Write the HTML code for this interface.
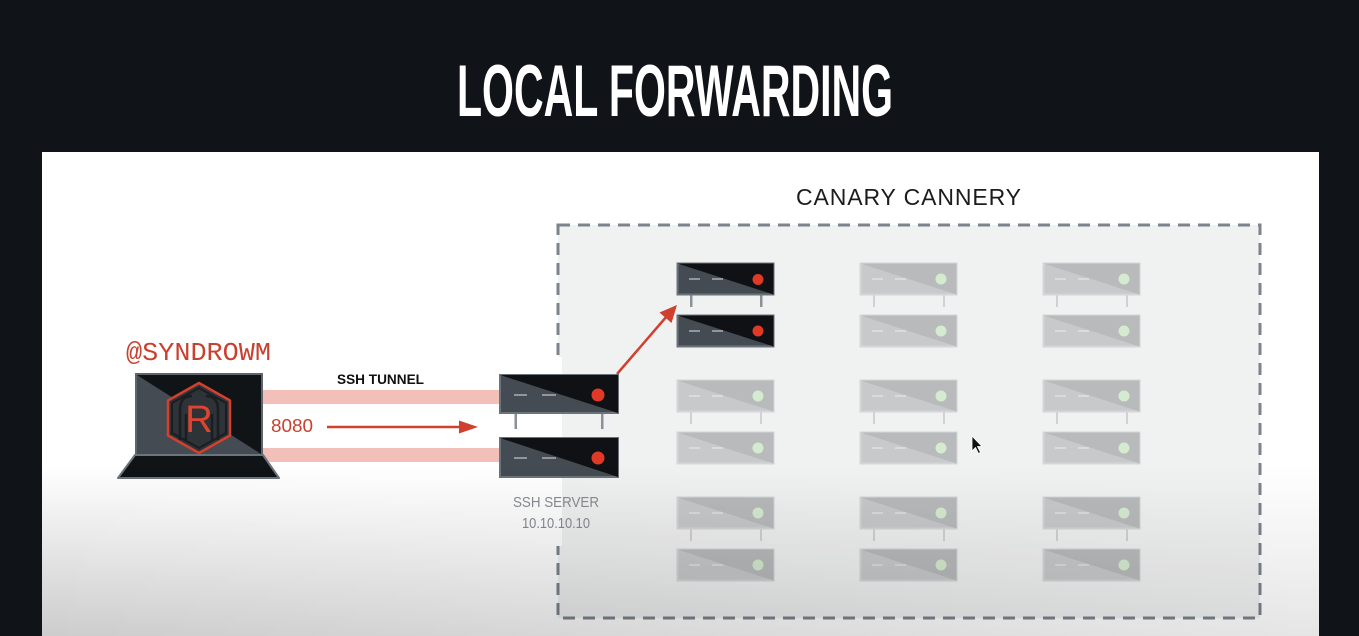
<!DOCTYPE html>
<html><head><meta charset="utf-8"><style>
html,body{margin:0;padding:0;background:#101317;}
svg{display:block;}
</style></head><body>
<svg width="1359" height="636" viewBox="0 0 1359 636" xmlns="http://www.w3.org/2000/svg">
<defs>
<linearGradient id="vg" x1="0" y1="465" x2="0" y2="636" gradientUnits="userSpaceOnUse">
<stop offset="0" stop-color="#000" stop-opacity="0"/>
<stop offset="1" stop-color="#000" stop-opacity="0.2"/>
</linearGradient>
<linearGradient id="hg" x1="42" y1="0" x2="1318" y2="0" gradientUnits="userSpaceOnUse">
<stop offset="0" stop-color="#fff" stop-opacity="1"/>
<stop offset="1" stop-color="#fff" stop-opacity="0.5"/>
</linearGradient>
<mask id="hm"><rect x="0" y="0" width="1359" height="636" fill="url(#hg)"/></mask>
</defs>
<rect width="1359" height="636" fill="#101317"/>
<text x="457" y="116" font-family="Liberation Sans Narrow, Liberation Sans, sans-serif" font-weight="bold" font-size="73" fill="#ffffff" textLength="436" lengthAdjust="spacingAndGlyphs">LOCAL FORWARDING</text>
<rect x="42" y="152" width="1277" height="484" fill="#ffffff"/>
<text x="796" y="205" font-family="Liberation Sans, sans-serif" font-size="23" fill="#1c1c1c" textLength="226" lengthAdjust="spacing" letter-spacing="1">CANARY  CANNERY</text>
<rect x="558" y="225" width="702" height="393" fill="#f0f1f1"/>
<rect x="558" y="225" width="702" height="393" fill="none" stroke="#7b838b" stroke-width="3" stroke-dasharray="12 8"/>
<rect x="540" y="357" width="22" height="189" fill="#ffffff"/>

<!-- dark servers col1 rows1-2 -->
<rect x="690" y="295" width="2.5" height="12" fill="#8a9199"/>
<rect x="760" y="295" width="2.5" height="12" fill="#8a9199"/>
<rect x="677.5" y="263.5" width="96" height="31" fill="#454b52" stroke="#6b737b" stroke-width="2"/>
<polygon points="677.5,263.5 773.5,263.5 773.5,294.5" fill="#0f1114"/>
<line x1="689" y1="279" x2="700" y2="279" stroke="#8f969d" stroke-width="2"/>
<line x1="712" y1="279" x2="723" y2="279" stroke="#8f969d" stroke-width="2"/>
<circle cx="758" cy="279.5" r="5.5" fill="#e03a26"/>
<rect x="677.5" y="315.5" width="96" height="31" fill="#454b52" stroke="#6b737b" stroke-width="2"/>
<polygon points="677.5,315.5 773.5,315.5 773.5,346.5" fill="#0f1114"/>
<line x1="689" y1="331" x2="700" y2="331" stroke="#8f969d" stroke-width="2"/>
<line x1="712" y1="331" x2="723" y2="331" stroke="#8f969d" stroke-width="2"/>
<circle cx="758" cy="331" r="5.5" fill="#e03a26"/>

<!-- grey legs -->
<g fill="#cfd2d5">
<rect x="690" y="412" width="2" height="12"/><rect x="760" y="412" width="2" height="12"/>
<rect x="690" y="529" width="2" height="12"/><rect x="760" y="529" width="2" height="12"/>
<rect x="873" y="295" width="2" height="12"/><rect x="943" y="295" width="2" height="12"/>
<rect x="873" y="412" width="2" height="12"/><rect x="943" y="412" width="2" height="12"/>
<rect x="873" y="529" width="2" height="12"/><rect x="943" y="529" width="2" height="12"/>
<rect x="1056" y="295" width="2" height="12"/><rect x="1126" y="295" width="2" height="12"/>
<rect x="1056" y="412" width="2" height="12"/><rect x="1126" y="412" width="2" height="12"/>
<rect x="1056" y="529" width="2" height="12"/><rect x="1126" y="529" width="2" height="12"/>
</g>

<!-- grey servers -->
<g>
<g transform="translate(677,380)"><rect x="0.5" y="0.5" width="96" height="31" fill="#c7c9cb" stroke="#d3d5d7" stroke-width="2"/><polygon points="0.5,0.5 96.5,0.5 96.5,31.5" fill="#b8babc"/><line x1="12" y1="16" x2="23" y2="16" stroke="#d9dbdd" stroke-width="2"/><line x1="35" y1="16" x2="46" y2="16" stroke="#d9dbdd" stroke-width="2"/><circle cx="81" cy="16" r="5.5" fill="#d5ebcf"/></g>
<g transform="translate(677,432)"><rect x="0.5" y="0.5" width="96" height="31" fill="#c7c9cb" stroke="#d3d5d7" stroke-width="2"/><polygon points="0.5,0.5 96.5,0.5 96.5,31.5" fill="#b8babc"/><line x1="12" y1="16" x2="23" y2="16" stroke="#d9dbdd" stroke-width="2"/><line x1="35" y1="16" x2="46" y2="16" stroke="#d9dbdd" stroke-width="2"/><circle cx="81" cy="16" r="5.5" fill="#d5ebcf"/></g>
<g transform="translate(677,497)"><rect x="0.5" y="0.5" width="96" height="31" fill="#c7c9cb" stroke="#d3d5d7" stroke-width="2"/><polygon points="0.5,0.5 96.5,0.5 96.5,31.5" fill="#b8babc"/><line x1="12" y1="16" x2="23" y2="16" stroke="#d9dbdd" stroke-width="2"/><line x1="35" y1="16" x2="46" y2="16" stroke="#d9dbdd" stroke-width="2"/><circle cx="81" cy="16" r="5.5" fill="#d5ebcf"/></g>
<g transform="translate(677,549)"><rect x="0.5" y="0.5" width="96" height="31" fill="#c7c9cb" stroke="#d3d5d7" stroke-width="2"/><polygon points="0.5,0.5 96.5,0.5 96.5,31.5" fill="#b8babc"/><line x1="12" y1="16" x2="23" y2="16" stroke="#d9dbdd" stroke-width="2"/><line x1="35" y1="16" x2="46" y2="16" stroke="#d9dbdd" stroke-width="2"/><circle cx="81" cy="16" r="5.5" fill="#d5ebcf"/></g>
<g transform="translate(860,263)"><rect x="0.5" y="0.5" width="96" height="31" fill="#c7c9cb" stroke="#d3d5d7" stroke-width="2"/><polygon points="0.5,0.5 96.5,0.5 96.5,31.5" fill="#b8babc"/><line x1="12" y1="16" x2="23" y2="16" stroke="#d9dbdd" stroke-width="2"/><line x1="35" y1="16" x2="46" y2="16" stroke="#d9dbdd" stroke-width="2"/><circle cx="81" cy="16" r="5.5" fill="#d5ebcf"/></g>
<g transform="translate(860,315)"><rect x="0.5" y="0.5" width="96" height="31" fill="#c7c9cb" stroke="#d3d5d7" stroke-width="2"/><polygon points="0.5,0.5 96.5,0.5 96.5,31.5" fill="#b8babc"/><line x1="12" y1="16" x2="23" y2="16" stroke="#d9dbdd" stroke-width="2"/><line x1="35" y1="16" x2="46" y2="16" stroke="#d9dbdd" stroke-width="2"/><circle cx="81" cy="16" r="5.5" fill="#d5ebcf"/></g>
<g transform="translate(860,380)"><rect x="0.5" y="0.5" width="96" height="31" fill="#c7c9cb" stroke="#d3d5d7" stroke-width="2"/><polygon points="0.5,0.5 96.5,0.5 96.5,31.5" fill="#b8babc"/><line x1="12" y1="16" x2="23" y2="16" stroke="#d9dbdd" stroke-width="2"/><line x1="35" y1="16" x2="46" y2="16" stroke="#d9dbdd" stroke-width="2"/><circle cx="81" cy="16" r="5.5" fill="#d5ebcf"/></g>
<g transform="translate(860,432)"><rect x="0.5" y="0.5" width="96" height="31" fill="#c7c9cb" stroke="#d3d5d7" stroke-width="2"/><polygon points="0.5,0.5 96.5,0.5 96.5,31.5" fill="#b8babc"/><line x1="12" y1="16" x2="23" y2="16" stroke="#d9dbdd" stroke-width="2"/><line x1="35" y1="16" x2="46" y2="16" stroke="#d9dbdd" stroke-width="2"/><circle cx="81" cy="16" r="5.5" fill="#d5ebcf"/></g>
<g transform="translate(860,497)"><rect x="0.5" y="0.5" width="96" height="31" fill="#c7c9cb" stroke="#d3d5d7" stroke-width="2"/><polygon points="0.5,0.5 96.5,0.5 96.5,31.5" fill="#b8babc"/><line x1="12" y1="16" x2="23" y2="16" stroke="#d9dbdd" stroke-width="2"/><line x1="35" y1="16" x2="46" y2="16" stroke="#d9dbdd" stroke-width="2"/><circle cx="81" cy="16" r="5.5" fill="#d5ebcf"/></g>
<g transform="translate(860,549)"><rect x="0.5" y="0.5" width="96" height="31" fill="#c7c9cb" stroke="#d3d5d7" stroke-width="2"/><polygon points="0.5,0.5 96.5,0.5 96.5,31.5" fill="#b8babc"/><line x1="12" y1="16" x2="23" y2="16" stroke="#d9dbdd" stroke-width="2"/><line x1="35" y1="16" x2="46" y2="16" stroke="#d9dbdd" stroke-width="2"/><circle cx="81" cy="16" r="5.5" fill="#d5ebcf"/></g>
<g transform="translate(1043,263)"><rect x="0.5" y="0.5" width="96" height="31" fill="#c7c9cb" stroke="#d3d5d7" stroke-width="2"/><polygon points="0.5,0.5 96.5,0.5 96.5,31.5" fill="#b8babc"/><line x1="12" y1="16" x2="23" y2="16" stroke="#d9dbdd" stroke-width="2"/><line x1="35" y1="16" x2="46" y2="16" stroke="#d9dbdd" stroke-width="2"/><circle cx="81" cy="16" r="5.5" fill="#d5ebcf"/></g>
<g transform="translate(1043,315)"><rect x="0.5" y="0.5" width="96" height="31" fill="#c7c9cb" stroke="#d3d5d7" stroke-width="2"/><polygon points="0.5,0.5 96.5,0.5 96.5,31.5" fill="#b8babc"/><line x1="12" y1="16" x2="23" y2="16" stroke="#d9dbdd" stroke-width="2"/><line x1="35" y1="16" x2="46" y2="16" stroke="#d9dbdd" stroke-width="2"/><circle cx="81" cy="16" r="5.5" fill="#d5ebcf"/></g>
<g transform="translate(1043,380)"><rect x="0.5" y="0.5" width="96" height="31" fill="#c7c9cb" stroke="#d3d5d7" stroke-width="2"/><polygon points="0.5,0.5 96.5,0.5 96.5,31.5" fill="#b8babc"/><line x1="12" y1="16" x2="23" y2="16" stroke="#d9dbdd" stroke-width="2"/><line x1="35" y1="16" x2="46" y2="16" stroke="#d9dbdd" stroke-width="2"/><circle cx="81" cy="16" r="5.5" fill="#d5ebcf"/></g>
<g transform="translate(1043,432)"><rect x="0.5" y="0.5" width="96" height="31" fill="#c7c9cb" stroke="#d3d5d7" stroke-width="2"/><polygon points="0.5,0.5 96.5,0.5 96.5,31.5" fill="#b8babc"/><line x1="12" y1="16" x2="23" y2="16" stroke="#d9dbdd" stroke-width="2"/><line x1="35" y1="16" x2="46" y2="16" stroke="#d9dbdd" stroke-width="2"/><circle cx="81" cy="16" r="5.5" fill="#d5ebcf"/></g>
<g transform="translate(1043,497)"><rect x="0.5" y="0.5" width="96" height="31" fill="#c7c9cb" stroke="#d3d5d7" stroke-width="2"/><polygon points="0.5,0.5 96.5,0.5 96.5,31.5" fill="#b8babc"/><line x1="12" y1="16" x2="23" y2="16" stroke="#d9dbdd" stroke-width="2"/><line x1="35" y1="16" x2="46" y2="16" stroke="#d9dbdd" stroke-width="2"/><circle cx="81" cy="16" r="5.5" fill="#d5ebcf"/></g>
<g transform="translate(1043,549)"><rect x="0.5" y="0.5" width="96" height="31" fill="#c7c9cb" stroke="#d3d5d7" stroke-width="2"/><polygon points="0.5,0.5 96.5,0.5 96.5,31.5" fill="#b8babc"/><line x1="12" y1="16" x2="23" y2="16" stroke="#d9dbdd" stroke-width="2"/><line x1="35" y1="16" x2="46" y2="16" stroke="#d9dbdd" stroke-width="2"/><circle cx="81" cy="16" r="5.5" fill="#d5ebcf"/></g>
</g>

<!-- tunnel bands -->
<rect x="262" y="390" width="238" height="14" fill="#f2c0b9"/>
<rect x="262" y="448" width="238" height="14" fill="#f2c0b9"/>
<text x="337" y="384" font-family="Liberation Sans, sans-serif" font-weight="bold" font-size="14" fill="#111" textLength="87" lengthAdjust="spacingAndGlyphs">SSH TUNNEL</text>
<text x="271" y="432" font-family="Liberation Sans, sans-serif" font-size="18" fill="#c8412f" textLength="42" lengthAdjust="spacingAndGlyphs">8080</text>
<line x1="327" y1="427" x2="462" y2="427" stroke="#d0402e" stroke-width="2.5"/>
<polygon points="478,427 459,420.5 459,433.5" fill="#d0402e"/>

<!-- SSH servers -->
<rect x="514.5" y="413" width="2.5" height="16" fill="#8a9199"/>
<rect x="601" y="413" width="2.5" height="16" fill="#8a9199"/>
<g transform="translate(499,374)"><rect x="1" y="1" width="118" height="38" fill="#454b52" stroke="#6b737b" stroke-width="2"/><polygon points="1,1 119,1 119,39" fill="#0f1114"/><line x1="15" y1="21" x2="28" y2="21" stroke="#8f969d" stroke-width="2"/><line x1="43" y1="21" x2="57" y2="21" stroke="#8f969d" stroke-width="2"/><circle cx="99" cy="21" r="6.5" fill="#e03a26"/></g>
<g transform="translate(499,437)"><rect x="1" y="1" width="118" height="39" fill="#454b52" stroke="#6b737b" stroke-width="2"/><polygon points="1,1 119,1 119,40" fill="#0f1114"/><line x1="15" y1="21" x2="28" y2="21" stroke="#8f969d" stroke-width="2"/><line x1="43" y1="21" x2="57" y2="21" stroke="#8f969d" stroke-width="2"/><circle cx="99" cy="21" r="6.5" fill="#e03a26"/></g>
<text x="513" y="507" font-family="Liberation Sans, sans-serif" font-size="15" fill="#878d94" textLength="86" lengthAdjust="spacingAndGlyphs">SSH SERVER</text>
<text x="522" y="528" font-family="Liberation Sans, sans-serif" font-size="15" fill="#878d94" textLength="68" lengthAdjust="spacingAndGlyphs">10.10.10.10</text>

<!-- red arrow to cannery -->
<line x1="617" y1="374" x2="667" y2="316" stroke="#d0402e" stroke-width="2.5"/>
<polygon points="677,305 671.5,323 659.5,312.5" fill="#d0402e"/>

<!-- laptop -->
<text x="126" y="360" font-family="Liberation Mono, monospace" font-size="26" fill="#c8412f" textLength="145" lengthAdjust="spacingAndGlyphs">@SYNDROWM</text>
<rect x="136" y="374" width="126" height="81" fill="#454b52" stroke="#5e656d" stroke-width="2"/>
<polygon points="137,375 261,375 261,454" fill="#111417"/>
<polygon points="135,455 263,455 279,478 118,478" fill="#111417" stroke="#6b737b" stroke-width="2" stroke-linejoin="round"/>
<polygon points="199,383 230,400.5 230,435.5 199,453 168,435.5 168,400.5" fill="#2e3338" stroke="#d2402e" stroke-width="2.5" stroke-linejoin="round"/>
<polygon points="199,388 226,403 226,433 199,448 172,433 172,403" fill="none" stroke="#1a1d21" stroke-width="2"/>
<path d="M180 440 L180 410 Q180 396 192 396 M218 440 L218 410 Q218 396 206 396 M186 440 L186 414 M212 440 L212 414" fill="none" stroke="#1a1d21" stroke-width="2.5"/>
<text x="199" y="432" text-anchor="middle" font-family="Liberation Sans, sans-serif" font-size="38" fill="#e0442f">R</text>

<!-- cursor -->
<polygon points="972,436 972,451 975.5,447.5 978.5,453.5 980.5,452.5 977.5,446.5 982,446.5" fill="#111" stroke="#fff" stroke-width="0.8"/>

<!-- vignette overlay -->
<rect x="42" y="465" width="1277" height="171" fill="url(#vg)" mask="url(#hm)"/>
</svg>
</body></html>
